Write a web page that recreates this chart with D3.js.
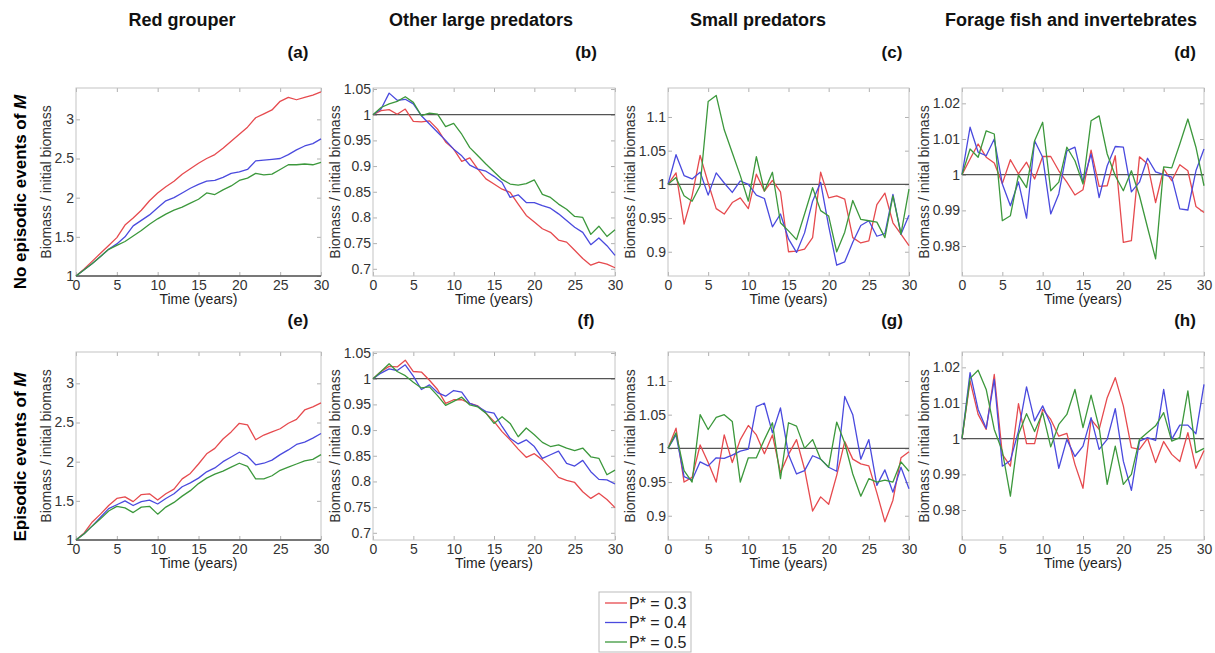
<!DOCTYPE html>
<html>
<head>
<meta charset="utf-8">
<script src="https://cdn.jsdelivr.net/npm/d3@7"></script>
<style>
  body { margin: 0; background: #fff; }
  svg { display: block; font-family: "Liberation Sans", Arial, sans-serif; }
</style>
</head>
<body>
<svg id="chart" width="1215" height="653"></svg>
<script>
// --- data ---
const groupTitles = ["Red grouper", "Other large predators", "Small predators", "Forage fish and invertebrates"];
const panelLetters = ["(a)", "(b)", "(c)", "(d)", "(e)", "(f)", "(g)", "(h)"];
const rowLabels = ["No episodic events of ", "Episodic events of "];
const seriesNames = ["P* = 0.3", "P* = 0.4", "P* = 0.5"];
const seriesColors = ["#e64a4e", "#4a4ade", "#3c983c"];
const years = [0,1,2,3,4,5,6,7,8,9,10,11,12,13,14,15,16,17,18,19,20,21,22,23,24,25,26,27,28,29,30];
const xTicks = [0,5,10,15,20,25,30];

const a03 = [1.0,1.09,1.19,1.29,1.39,1.49,1.65,1.74,1.84,1.96,2.06,2.14,2.21,2.30,2.37,2.44,2.50,2.55,2.63,2.72,2.81,2.90,3.02,3.07,3.12,3.23,3.28,3.25,3.28,3.31,3.35];
const a04 = [1.0,1.08,1.16,1.25,1.34,1.41,1.50,1.64,1.71,1.78,1.87,1.96,2.00,2.06,2.12,2.17,2.21,2.22,2.26,2.31,2.33,2.36,2.47,2.48,2.49,2.50,2.55,2.61,2.66,2.69,2.75];
const a05 = [1.0,1.08,1.16,1.25,1.34,1.39,1.44,1.51,1.58,1.66,1.73,1.79,1.84,1.88,1.93,1.98,2.06,2.04,2.10,2.15,2.22,2.25,2.31,2.29,2.30,2.36,2.42,2.42,2.43,2.42,2.45];

const b03 = [1.0,1.008,1.010,1.001,1.011,0.987,0.986,0.988,0.972,0.947,0.933,0.909,0.916,0.894,0.875,0.865,0.855,0.849,0.826,0.804,0.791,0.778,0.771,0.756,0.752,0.736,0.720,0.707,0.713,0.709,0.702];
const b04 = [1.0,1.011,1.042,1.028,1.030,1.021,0.998,0.982,0.966,0.950,0.933,0.920,0.902,0.894,0.890,0.880,0.868,0.839,0.844,0.829,0.829,0.823,0.818,0.807,0.794,0.781,0.771,0.747,0.760,0.745,0.726];
const b05 = [1.0,1.014,1.021,1.026,1.035,1.024,0.998,1.003,1.001,0.977,0.983,0.962,0.936,0.920,0.904,0.889,0.874,0.865,0.863,0.866,0.873,0.845,0.839,0.826,0.816,0.802,0.800,0.767,0.783,0.763,0.776];

const c03 = [1.0,1.017,0.941,0.983,1.043,1.002,0.964,0.956,0.973,0.980,0.964,1.015,0.990,1.006,0.989,0.900,0.901,0.904,0.921,1.018,0.980,0.983,0.978,0.921,0.913,0.916,0.970,0.987,0.943,0.926,0.909];
const c04 = [1.0,1.044,1.013,1.008,1.018,0.984,1.017,1.002,0.988,1.005,1.000,0.984,0.979,0.937,0.956,0.919,0.899,0.928,0.975,1.003,0.938,0.880,0.885,0.914,0.939,0.946,0.923,0.927,0.985,0.926,0.954];
const c05 = [1.0,1.010,0.983,0.975,0.998,1.123,1.132,1.081,1.047,1.013,0.975,1.041,0.990,1.018,0.943,0.931,0.918,0.956,0.995,0.961,0.953,0.900,0.929,0.976,0.948,0.946,0.944,0.921,0.983,0.926,0.993];

const d03 = [1.0,1.0044,1.0086,1.0049,1.0033,0.9975,1.0042,1.0002,1.0035,0.9988,1.0051,1.0051,1.0011,0.9979,0.9943,0.9958,1.0069,0.9967,0.9969,1.0053,0.9810,0.9815,1.0050,1.0030,0.9922,1.0016,0.9983,1.0028,1.0011,0.9911,0.9894];
const d04 = [1.0,1.0133,1.0063,1.0053,1.0100,0.9974,0.9913,0.9980,0.9878,1.0095,1.0049,0.9890,0.9946,1.0067,1.0077,0.9979,1.0058,0.9936,1.0025,1.0079,1.0077,0.9952,0.9979,1.0046,1.0008,1.0000,0.9993,0.9904,0.9901,1.0011,1.0072];
const d05 = [1.0,1.0072,1.0049,1.0123,1.0114,0.9871,0.9885,0.9999,0.9964,1.0095,1.0147,0.9955,0.9979,1.0077,1.0039,0.9974,1.0151,1.0165,1.0058,0.9997,0.9955,1.0011,0.9941,0.9852,0.9764,1.0022,1.0019,1.0086,1.0156,1.0077,0.9969];

const e03 = [1.0,1.09,1.23,1.33,1.44,1.53,1.55,1.49,1.58,1.59,1.51,1.59,1.65,1.78,1.85,1.97,2.10,2.17,2.29,2.38,2.49,2.47,2.28,2.34,2.38,2.42,2.49,2.54,2.66,2.70,2.75];
const e04 = [1.0,1.08,1.18,1.29,1.40,1.45,1.50,1.44,1.49,1.51,1.46,1.53,1.59,1.68,1.73,1.79,1.87,1.92,2.00,2.06,2.12,2.07,1.96,1.98,2.02,2.09,2.15,2.22,2.25,2.30,2.36];
const e05 = [1.0,1.08,1.18,1.27,1.37,1.43,1.41,1.35,1.42,1.43,1.33,1.42,1.48,1.56,1.63,1.72,1.79,1.84,1.88,1.93,1.98,1.94,1.78,1.78,1.82,1.89,1.93,1.97,2.01,2.03,2.09];

const f03 = [1.0,1.014,1.024,1.023,1.036,1.014,1.013,0.997,0.979,0.952,0.959,0.959,0.952,0.947,0.933,0.917,0.897,0.881,0.863,0.847,0.854,0.842,0.826,0.808,0.802,0.798,0.780,0.767,0.777,0.765,0.749];
const f04 = [1.0,1.011,1.019,1.016,1.027,1.005,0.979,0.988,0.973,0.966,0.977,0.974,0.952,0.946,0.936,0.933,0.907,0.884,0.873,0.881,0.868,0.845,0.852,0.859,0.835,0.830,0.841,0.819,0.804,0.803,0.795];
const f05 = [1.0,1.014,1.029,1.014,1.006,0.993,0.982,0.984,0.967,0.948,0.956,0.964,0.949,0.945,0.933,0.913,0.926,0.913,0.887,0.904,0.891,0.876,0.868,0.871,0.865,0.860,0.865,0.848,0.845,0.813,0.822];

const g03 = [1.0,1.030,0.950,0.957,1.005,0.979,0.950,1.020,0.979,1.013,1.034,1.020,0.992,1.020,0.964,0.991,1.013,0.969,0.907,0.928,0.917,0.960,1.010,0.984,0.977,0.974,0.934,0.891,0.923,0.986,0.995];
const g04 = [1.0,1.020,0.958,0.953,0.980,0.974,0.986,0.985,0.990,0.996,0.999,1.062,1.067,1.023,1.060,0.991,0.962,0.967,0.989,0.984,0.972,0.966,1.077,1.050,0.984,1.013,0.945,0.968,0.935,0.972,0.940];
const g05 = [1.0,1.023,0.967,0.950,1.050,1.028,1.046,1.050,1.040,0.950,0.986,0.986,1.013,1.038,0.955,1.038,1.033,1.000,1.013,0.984,0.972,1.039,1.008,0.962,0.929,0.955,0.950,0.953,0.950,0.980,0.966];

const h03 = [1.0,1.0162,1.0068,1.0026,1.0180,0.9956,0.9923,1.0098,0.9986,0.9986,1.0082,1.0054,1.0007,1.0015,0.9928,0.9861,1.0054,1.0026,1.0115,1.0171,1.0092,0.9975,0.9970,1.0001,0.9933,0.9992,0.9956,0.9936,1.0017,0.9917,0.9967];
const h04 = [1.0,1.0185,1.0082,1.0029,1.0166,0.9923,0.9939,1.0021,1.0145,1.0050,1.0092,1.0040,0.9917,0.9998,0.9950,0.9979,1.0059,0.9970,0.9998,1.0084,0.9937,0.9855,0.9993,1.0003,0.9995,1.0138,0.9998,1.0038,1.0038,1.0014,1.0152];
const h05 = [1.0,1.0169,1.0192,1.0138,1.0026,0.9965,0.9839,1.0012,1.0070,1.0020,1.0073,0.9977,1.0040,1.0068,1.0138,1.0031,1.0122,1.0031,0.9872,0.9979,0.9872,0.9900,0.9998,1.0017,1.0036,1.0073,0.9993,1.0003,1.0134,0.9961,0.9973];

// y ranges / ticks per column
const yDomains = [[1, 3.4], [0.686, 1.052], [0.864, 1.143], [0.9716, 1.0243]];
const yTicks = [
  [1, 1.5, 2, 2.5, 3],
  [0.7, 0.75, 0.8, 0.85, 0.9, 0.95, 1, 1.05],
  [0.9, 0.95, 1, 1.05, 1.1],
  [0.98, 0.99, 1, 1.01, 1.02]
];

const panelSeries = [
  [a03, a04, a05], [b03, b04, b05], [c03, c04, c05], [d03, d04, d05],
  [e03, e04, e05], [f03, f04, f05], [g03, g04, g05], [h03, h04, h05]
];

// --- layout ---
const colX = [76, 373, 668, 962];
const colW = [245, 242, 241, 242];
const rowY = [88, 352];
const plotH = 188;
const titleX = [182, 481, 758, 1071];
const letterX = [298, 586, 892, 1185];
const ylabOff = [30, 38, 38, 38];

const svg = d3.select("#chart");
const fmt = v => String(+v.toFixed(3));

// column titles
groupTitles.forEach((t, i) => {
  svg.append("text").attr("x", titleX[i]).attr("y", 20).attr("dy", "0.35em")
    .attr("text-anchor", "middle").attr("font-size", 18).attr("font-weight", "bold")
    .attr("fill", "#111").text(t);
});

// row labels
rowLabels.forEach((t, r) => {
  const cy = r === 0 ? 192 : 457;
  const txt = svg.append("text")
    .attr("transform", `translate(20,${cy}) rotate(-90)`)
    .attr("dy", "0.35em").attr("text-anchor", "middle")
    .attr("font-size", 17).attr("font-weight", "bold").attr("fill", "#000");
  txt.append("tspan").text(t);
  txt.append("tspan").attr("font-style", "italic").text("M");
});

panelSeries.forEach((series, idx) => {
  const row = Math.floor(idx / 4), col = idx % 4;
  const w = colW[col], h = plotH;
  const g = svg.append("g").attr("transform", `translate(${colX[col]},${rowY[row]})`);

  // panel letter
  svg.append("text").attr("x", letterX[col]).attr("y", row === 0 ? 52 : 320).attr("dy", "0.35em")
    .attr("text-anchor", "middle").attr("font-size", 17).attr("font-weight", "bold")
    .attr("fill", "#111").text(panelLetters[idx]);

  const x = d3.scaleLinear().domain([0, 30]).range([0, w]);
  const y = d3.scaleLinear().domain(yDomains[col]).range([h, 0]);

  g.append("rect").attr("width", w).attr("height", h).attr("fill", "#fff");

  const styleAxis = sel => {
    sel.select(".domain").remove();
    sel.selectAll(".tick line").attr("stroke", "#b0b0b0");
    sel.selectAll(".tick text").attr("fill", "#333").attr("font-size", 14)
      .attr("font-family", "'Liberation Sans', Arial, sans-serif");
  };

  g.append("g").attr("transform", `translate(0,${h})`)
    .call(d3.axisBottom(x).tickValues(xTicks).tickSize(-4).tickPadding(4).tickFormat(fmt))
    .call(styleAxis);
  g.append("g")
    .call(d3.axisTop(x).tickValues(xTicks).tickSize(-4).tickFormat(""))
    .call(styleAxis);
  g.append("g")
    .call(d3.axisLeft(y).tickValues(yTicks[col]).tickSize(-4).tickPadding(2).tickFormat(fmt))
    .call(styleAxis);
  g.append("g").attr("transform", `translate(${w},0)`)
    .call(d3.axisRight(y).tickValues(yTicks[col]).tickSize(-4).tickFormat(""))
    .call(styleAxis);

  g.append("rect").attr("width", w).attr("height", h)
    .attr("fill", "none").attr("stroke", "#c4c4c4").attr("stroke-width", 1);

  // reference line at 1
  g.append("line").attr("x1", x(0)).attr("x2", x(30)).attr("y1", y(1)).attr("y2", y(1))
    .attr("stroke", "#555").attr("stroke-width", 1.3);

  const line = d3.line().x((d, i) => x(years[i])).y(d => y(d));
  series.forEach((s, k) => {
    g.append("path").datum(s).attr("fill", "none")
      .attr("stroke", seriesColors[k]).attr("stroke-width", 1.3)
      .attr("stroke-linejoin", "round").attr("d", line);
  });

  // axis labels
  g.append("text").attr("x", w / 2).attr("y", h + 23).attr("dy", "0.35em")
    .attr("text-anchor", "middle").attr("font-size", 14).attr("fill", "#222")
    .text("Time (years)");
  g.append("text").attr("transform", `translate(${-ylabOff[col]},${h / 2}) rotate(-90)`)
    .attr("dy", "0.35em").attr("text-anchor", "middle").attr("font-size", 14)
    .attr("fill", "#333").text("Biomass / initial biomass");
});

// legend
const lg = svg.append("g").attr("transform", "translate(599,592)");
lg.append("rect").attr("width", 92).attr("height", 60)
  .attr("fill", "#fff").attr("stroke", "#bbb");
seriesNames.forEach((n, i) => {
  const yy = 11 + i * 19.5;
  lg.append("line").attr("x1", 6).attr("x2", 28).attr("y1", yy).attr("y2", yy)
    .attr("stroke", seriesColors[i]).attr("stroke-width", 1.3);
  lg.append("text").attr("x", 30).attr("y", yy).attr("dy", "0.35em")
    .attr("font-size", 16).attr("fill", "#222").text(n);
});
</script>
</body>
</html>
